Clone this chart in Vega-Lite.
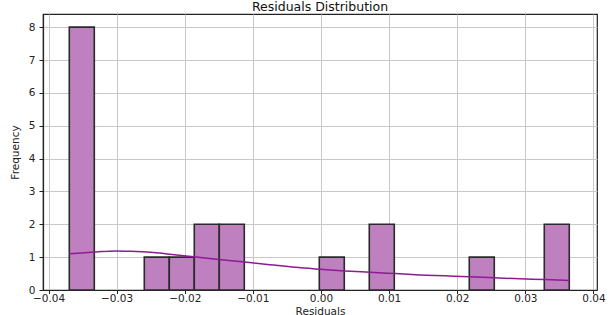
{
  "$schema": "https://vega.github.io/schema/vega-lite/v6.json",
  "autosize": {"type": "none"},
  "width": 554,
  "height": 276,
  "padding": {"left": 43, "top": 14, "right": 13, "bottom": 25},
  "background": "white",
  "title": {"text": "Residuals Distribution", "fontSize": 12.5, "font": "DejaVu Sans", "fontWeight": "normal", "anchor": "middle", "offset": 1, "color": "#111"},
  "config": {
    "view": {"stroke": "#222", "strokeWidth": 1.2},
    "axis": {
      "labelFont": "DejaVu Sans", "labelFontSize": 11, "labelColor": "#222",
      "titleFont": "DejaVu Sans", "titleFontSize": 10.5, "titleFontWeight": "normal", "titleColor": "#222",
      "gridColor": "#c8c8c8", "gridWidth": 1, "gridOpacity": 1,
      "domainColor": "#222", "domainWidth": 1.2, "tickColor": "#222", "tickSize": 4
    }
  },
  "datasets": {
    "bins": [
      {"x": -0.03695, "x2": -0.03328, "y": 8},
      {"x": -0.02594, "x2": -0.02227, "y": 1},
      {"x": -0.02227, "x2": -0.01860, "y": 1},
      {"x": -0.01860, "x2": -0.01493, "y": 2},
      {"x": -0.01493, "x2": -0.01126, "y": 2},
      {"x": -0.00025, "x2": 0.00342, "y": 1},
      {"x": 0.00709, "x2": 0.01076, "y": 2},
      {"x": 0.02177, "x2": 0.02544, "y": 1},
      {"x": 0.03278, "x2": 0.03645, "y": 2}
    ],
    "kde": [
      {"x": -0.03695, "y": 1.10},
      {"x": -0.0330, "y": 1.16},
      {"x": -0.0301, "y": 1.19},
      {"x": -0.0280, "y": 1.18},
      {"x": -0.0250, "y": 1.15},
      {"x": -0.0222, "y": 1.09},
      {"x": -0.0186, "y": 1.01},
      {"x": -0.0150, "y": 0.93},
      {"x": -0.0112, "y": 0.85},
      {"x": -0.0075, "y": 0.77},
      {"x": -0.0038, "y": 0.69},
      {"x": 0.0, "y": 0.63},
      {"x": 0.0035, "y": 0.58},
      {"x": 0.0072, "y": 0.54},
      {"x": 0.0109, "y": 0.50},
      {"x": 0.0145, "y": 0.46},
      {"x": 0.0182, "y": 0.43},
      {"x": 0.0219, "y": 0.40},
      {"x": 0.0255, "y": 0.37},
      {"x": 0.0292, "y": 0.34},
      {"x": 0.0329, "y": 0.32},
      {"x": 0.03645, "y": 0.29}
    ]
  },
  "encoding": {
    "x": {"field": "x", "type": "quantitative",
          "scale": {"domain": [-0.04081, 0.04052], "nice": false, "zero": false},
          "axis": {"title": "Residuals", "values": [-0.04, -0.03, -0.02, -0.01, 0, 0.01, 0.02, 0.03, 0.04], "format": ".2f", "titlePadding": 2, "labelPadding": 0, "labelFontSize": 10.5, "tickSize": 3.5}},
    "y": {"field": "y", "type": "quantitative",
          "scale": {"domain": [0, 8.4], "nice": false},
          "axis": {"title": "Frequency", "values": [0, 1, 2, 3, 4, 5, 6, 7, 8], "titlePadding": 8, "labelPadding": 4, "labelFontSize": 10.5}}
  },
  "layer": [
    {
      "data": {"name": "bins"},
      "mark": {"type": "bar", "fill": "#bf80bf", "stroke": "#2a2a2a", "strokeWidth": 1.6},
      "encoding": {
        "x2": {"field": "x2"},
        "y2": {"datum": 0}
      }
    },
    {
      "data": {"name": "kde"},
      "mark": {"type": "line", "color": "#8e1a96", "strokeWidth": 1.5, "interpolate": "monotone"},
      "encoding": {}
    }
  ]
}
